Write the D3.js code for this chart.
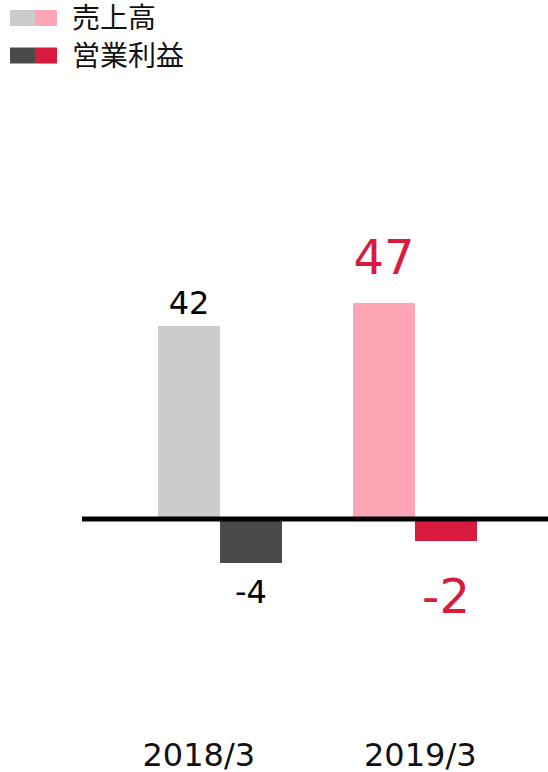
<!DOCTYPE html>
<html><head><meta charset="utf-8">
<script src="https://cdn.jsdelivr.net/npm/d3@7/dist/d3.min.js"></script>
<style>body{margin:0;background:#fff}svg{display:block}</style>
</head><body><svg id="c" width="548" height="772"></svg>
<script>
const categories = ["2018/3", "2019/3"];
const sales = [42, 47];
const profit = [-4, -2];
const seriesNames = ["売上高", "営業利益"];
const salesColors = ["#cccccc", "#ffa6b6"];
const profitColors = ["#4a4a4a", "#d81b3c"];
const labelColors = ["#000000", "#d81b3c"];
const labelSizes = [32, 48];

const svg = d3.select("#c");
const font = "'DejaVu Sans', Verdana, 'Noto Sans CJK JP', sans-serif";
const baseY = 519;

const x = d3.scaleBand().domain(categories).range([158, 477]).paddingInner(0.364).paddingOuter(0);
const xs = d3.scaleBand().domain(["s", "p"]).range([0, x.bandwidth()]);
const xl = d3.scaleBand().domain(categories).range([88, 531]);
const ySales = d3.scaleLinear().domain([0, 47]).range([baseY, baseY - 216]);
const yProfit = d3.scaleLinear().domain([-4, 0]).range([baseY + 44, baseY]);

const g = svg.append("g");
categories.forEach((c, i) => {
  const x0 = x(c);
  g.append("rect").attr("x", x0 + xs("s")).attr("width", xs.bandwidth())
    .attr("y", ySales(sales[i])).attr("height", baseY - ySales(sales[i])).attr("fill", salesColors[i]);
  g.append("rect").attr("x", x0 + xs("p")).attr("width", xs.bandwidth())
    .attr("y", baseY).attr("height", yProfit(profit[i]) - baseY).attr("fill", profitColors[i]);
  const fs = labelSizes[i];
  g.append("text").attr("x", x0 + xs("s") + xs.bandwidth() / 2).attr("y", ySales(sales[i]) - fs * 0.38 - (i ? 11 : 0))
    .attr("text-anchor", "middle").attr("font-family", font).attr("font-size", fs)
    .attr("fill", labelColors[i]).text(sales[i]);
  g.append("text").attr("x", x0 + xs("p") + xs.bandwidth() / 2).attr("y", yProfit(profit[i]) + fs * 1.25 + (i ? 12 : 0))
    .attr("text-anchor", "middle").attr("font-family", font).attr("font-size", fs)
    .attr("fill", labelColors[i]).text(profit[i]);
  g.append("text").attr("x", xl(c) + xl.bandwidth() / 2).attr("y", 766)
    .attr("text-anchor", "middle").attr("font-family", font).attr("font-size", 32)
    .attr("fill", "#111").text(c);
});

svg.append("line").attr("x1", 82).attr("x2", 548).attr("y1", baseY).attr("y2", baseY)
  .attr("stroke", "#000").attr("stroke-width", 5);

// legend
const legendColors = [salesColors, profitColors];
seriesNames.forEach((n, i) => {
  const ly = 10 + i * 37.5;
  svg.append("rect").attr("x", 10).attr("y", ly).attr("width", 25).attr("height", 16).attr("fill", legendColors[i][0]);
  svg.append("rect").attr("x", 35).attr("y", ly).attr("width", 22).attr("height", 16).attr("fill", legendColors[i][1]);
  svg.append("text").attr("x", 72).attr("y", ly + 8).attr("dy", "0.36em")
    .attr("font-family", "'Noto Sans CJK JP', sans-serif").attr("font-size", 28).attr("fill", "#111").text(n);
});
</script></body></html>
